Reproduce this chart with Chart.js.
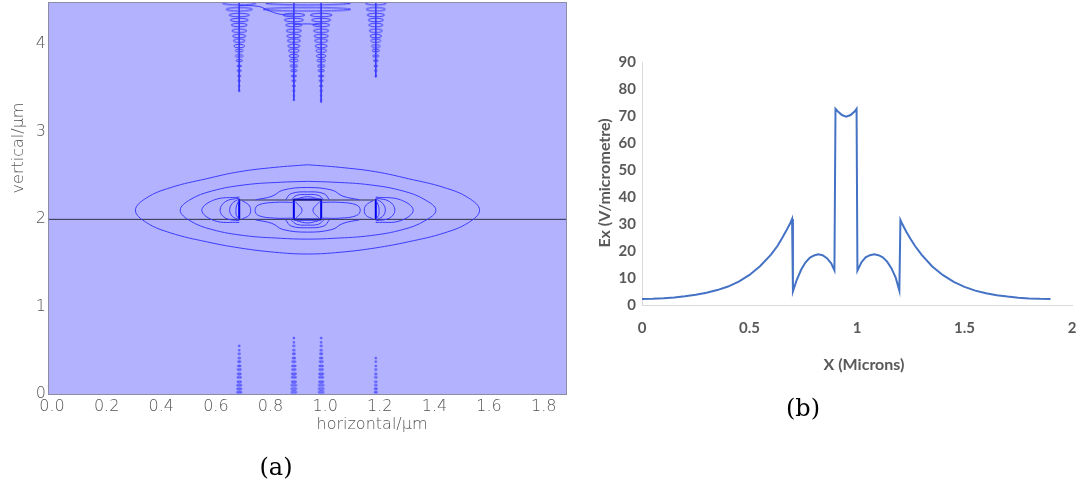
<!DOCTYPE html>
<html>
<head>
<meta charset="utf-8">
<script src="https://cdn.jsdelivr.net/npm/chart.js@4.4.1/dist/chart.umd.min.js"></script>
<style>
  html, body { margin: 0; padding: 0; background: #fff; width: 1090px; height: 493px; overflow: hidden; }
  canvas { position: absolute; }
  #left { left: 0; top: 0; }
  #right { left: 580px; top: 40px; }
</style>
</head>
<body>
<canvas id="left" width="580" height="490"></canvas>
<canvas id="right" width="510" height="380"></canvas>
<script>
// ---- (b) Ex along the horizontal cut ----
const exX = [0,0.05,0.1,0.15,0.2,0.25,0.3,0.35,0.4,0.45,0.5,0.55,0.6,0.63,0.65,0.67,0.69,0.698,
  0.702,0.72,0.74,0.76,0.78,0.8,0.82,0.84,0.86,0.88,0.895,
  0.9,0.91,0.93,0.95,0.97,0.99,0.998,
  1.002,1.02,1.04,1.06,1.08,1.1,1.12,1.14,1.16,1.18,1.197,
  1.202,1.21,1.23,1.25,1.27,1.3,1.35,1.4,1.45,1.5,1.55,1.6,1.65,1.7,1.75,1.8,1.85,1.9];
const exY = [2.4,2.5,2.7,3.0,3.4,4.0,4.7,5.7,7.0,8.8,11.3,14.6,18.8,22.0,24.7,27.5,30.5,32.0,
  5.2,9.5,13.2,15.9,17.6,18.5,18.9,18.6,17.5,15.6,13.0,
  72.7,71.8,70.4,69.8,70.4,71.8,72.7,
  12.9,15.9,17.8,18.6,18.9,18.6,17.8,16.2,13.8,10.3,5.5,
  31.6,30.2,27.2,24.5,22.0,18.8,14.4,11.2,8.7,6.9,5.5,4.5,3.8,3.3,2.9,2.6,2.45,2.4];
const exTicksX = [0, 0.5, 1, 1.5, 2];

// ---- (a) contour map [x, y] in µm ----
const outerC = [[0.95,2.62],[1.07,2.59],[1.2,2.54],[1.32,2.46],[1.45,2.36],[1.54,2.24],[1.58,2.10],
  [1.54,1.96],[1.45,1.84],[1.32,1.74],[1.2,1.67],[1.07,1.62],[0.95,1.60],[0.83,1.62],[0.7,1.67],[0.58,1.74],[0.45,1.84],[0.36,1.96],[0.32,2.10],
  [0.36,2.24],[0.45,2.36],[0.58,2.46],[0.7,2.54],[0.83,2.59],[0.95,2.62]];
const secondC = [[0.95,2.43],[1.05,2.42],[1.18,2.39],[1.3,2.32],[1.38,2.22],[1.42,2.10],
  [1.38,1.98],[1.3,1.88],[1.18,1.81],[1.05,1.78],[0.95,1.77],[0.85,1.78],[0.72,1.81],[0.6,1.88],[0.52,1.98],[0.484,2.10],
  [0.52,2.22],[0.6,2.32],[0.72,2.39],[0.85,2.42],[0.95,2.43]];
const crossTop = [[0.76,2.22],[0.82,2.26],[0.86,2.33],[0.95,2.36],[1.04,2.33],[1.08,2.26],[1.14,2.22]];
const crossBot = [[0.76,1.99],[0.82,1.95],[0.86,1.88],[0.95,1.85],[1.04,1.88],[1.08,1.95],[1.14,1.99]];
const lobeTop = [[[0.87,2.22],[0.89,2.29],[0.95,2.31],[1.01,2.29],[1.03,2.22]], [[0.89,2.22],[0.91,2.27],[0.95,2.28],[0.99,2.27],[1.01,2.22]], [[0.91,2.23],[0.95,2.255],[0.99,2.23]]];
const lobeBot = [[[0.87,1.99],[0.89,1.92],[0.95,1.90],[1.01,1.92],[1.03,1.99]], [[0.89,1.99],[0.91,1.94],[0.95,1.93],[0.99,1.94],[1.01,1.99]], [[0.91,1.98],[0.95,1.955],[0.99,1.98]]];
const leftArcs = [[[0.70,2.25],[0.61,2.22],[0.563,2.10],[0.61,1.98],[0.70,1.96]], [[0.70,2.24],[0.65,2.20],[0.63,2.10],[0.65,2.01],[0.70,1.98]],
  [[0.70,2.23],[0.675,2.18],[0.665,2.10],[0.675,2.03],[0.70,1.99]], [[0.70,2.22],[0.69,2.15],[0.688,2.10],[0.69,2.04],[0.70,2.0]], [[0.71,2.21],[0.735,2.16],[0.742,2.10],[0.735,2.04],[0.71,2.0]]];
const rightArcs = [[[1.20,2.25],[1.29,2.22],[1.337,2.10],[1.29,1.98],[1.20,1.96]], [[1.20,2.24],[1.25,2.20],[1.27,2.10],[1.25,2.01],[1.20,1.98]],
  [[1.20,2.23],[1.225,2.18],[1.235,2.10],[1.225,2.03],[1.20,1.99]], [[1.20,2.22],[1.21,2.15],[1.212,2.10],[1.21,2.04],[1.20,2.0]], [[1.19,2.21],[1.165,2.16],[1.158,2.10],[1.165,2.04],[1.19,2.0]]];
const ovalL = [[0.9,2.19],[0.83,2.19],[0.77,2.16],[0.758,2.10],[0.77,2.04],[0.83,2.01],[0.9,2.01]];
const ovalR = [[1.0,2.19],[1.07,2.19],[1.13,2.16],[1.143,2.10],[1.13,2.04],[1.07,2.01],[1.0,2.01]];
const hourglass = [[[0.905,2.2],[0.93,2.10],[0.905,2.0]], [[0.995,2.2],[0.97,2.10],[0.995,2.0]]];
const slabEdges = [0.7, 0.9, 1.0, 1.2];
const topS = [[0.70,4.44],[0.77,4.43],[0.81,4.38],[0.85,4.34],[0.9,4.33]];
const topBridge = [[0.9,4.22],[0.95,4.23],[1.0,4.215]];

// wiggle loops near the top and bottom boundaries
const topLevels = [4.465,4.396,4.331,4.274,4.217,4.152,4.091,4.038,3.977,3.924,3.863,3.810,3.749,3.695,3.634,3.581,3.52,3.466,3.41,3.36];
const top07W = [0.061,0.048,0.037,0.033,0.029,0.027,0.024,0.021,0.020,0.015,0.015,0.012,0.009,0.008,0.006,0.004,0.002,0.002];
const top09W = [0,0,0.040,0.035,0.030,0.028,0.026,0.024,0.022,0.020,0.018,0.016,0.014,0.012,0.010,0.008,0.006,0.004,0.003,0.002];
const top10W = [0,0,0.040,0.035,0.031,0.028,0.026,0.024,0.022,0.020,0.018,0.016,0.014,0.012,0.010,0.008,0.006,0.004,0.003,0.002];
const top12W = [0.038,0.035,0.032,0.028,0.026,0.024,0.021,0.019,0.017,0.014,0.012,0.009,0.007,0.005,0.003];
const topMerged = [{x:0.952,y:4.465,w:0.155,h:0.02},{x:0.948,y:4.396,w:0.16,h:0.02}];
const botLevels = [0.02,0.06,0.10,0.14,0.19,0.23,0.28,0.32,0.37,0.41,0.46,0.50,0.55,0.59,0.64];
const bot07W = [0.010,0.010,0.010,0.009,0.009,0.008,0.008,0.007,0.006,0.005,0.004,0.003,0.002];
const bot09W = [0.011,0.011,0.011,0.010,0.010,0.010,0.009,0.009,0.008,0.007,0.006,0.005,0.004,0.003,0.002];
const bot10W = [0.011,0.011,0.011,0.010,0.010,0.010,0.009,0.009,0.008,0.007,0.006,0.005,0.004,0.003,0.002];
const bot12W = [0.006,0.006,0.005,0.005,0.005,0.004,0.004,0.003,0.003,0.002];

const CONTOUR = '#3c3cff';
const SLAB = '#0000ee';
const DARK = '#30304a';

function pts(arr) { return arr.map(p => ({x: p[0], y: p[1]})); }
function curve(arr, color, width, tension) {
  return { data: pts(arr), showLine: true, borderColor: color, borderWidth: width, pointRadius: 0, tension: tension, fill: false };
}
function loops(x, levels, widths, h) {
  const out = [];
  widths.forEach((w, i) => { if (w > 0) out.push({x: x, y: levels[i], w: w, h: h ? Math.min(h, w) : w}); });
  return out;
}

const loopCache = {};
function loopImage(wpx, hpx) {
  const w = Math.max(0.8, wpx), h = Math.max(0.8, hpx);
  const key = w.toFixed(1) + 'x' + h.toFixed(1);
  if (!loopCache[key]) {
    const c = document.createElement('canvas');
    c.width = Math.ceil(2 * w + 2); c.height = Math.ceil(2 * h + 2);
    const g = c.getContext('2d');
    g.strokeStyle = CONTOUR; g.lineWidth = 1;
    g.beginPath(); g.ellipse(c.width / 2, c.height / 2, w, h, 0, 0, Math.PI * 2); g.stroke();
    loopCache[key] = c;
  }
  return loopCache[key];
}
function loopSet(data) {
  return {
    data: data, showLine: false, pointRadius: 2,
    pointStyle: (c) => {
      const p = c.raw;
      if (!p || !c.chart.scales.x) return 'circle';
      const sx = c.chart.scales.x, sy = c.chart.scales.y;
      return loopImage(sx.getPixelForValue(p.x + p.w) - sx.getPixelForValue(p.x),
                       sy.getPixelForValue(p.y) - sy.getPixelForValue(p.y + p.h));
    }
  };
}

const labelPlugin = {
  id: 'labels',
  afterDraw(chart, args, opts) {
    const ctx = chart.ctx;
    (opts.items || []).forEach(t => {
      ctx.save();
      ctx.font = t.font; ctx.fillStyle = t.color;
      ctx.textAlign = 'center'; ctx.textBaseline = 'middle';
      ctx.translate(t.x, t.y);
      if (t.rot) ctx.rotate(t.rot * Math.PI / 180);
      ctx.fillText(t.text, 0, 0);
      ctx.restore();
    });
  }
};
const mapBg = {
  id: 'mapBg',
  beforeDatasetsDraw(chart) {
    const a = chart.chartArea, ctx = chart.ctx;
    ctx.save(); ctx.fillStyle = '#b2b2fe'; ctx.fillRect(a.left, a.top, a.right - a.left, a.bottom - a.top); ctx.restore();
  },
  afterDatasetsDraw(chart) {
    const a = chart.chartArea, ctx = chart.ctx;
    ctx.save(); ctx.strokeStyle = '#8c8ca6'; ctx.lineWidth = 1;
    ctx.strokeRect(a.left + 0.5, a.top + 0.5, a.right - a.left - 1, a.bottom - a.top); ctx.restore();
  }
};

const lightFont = { family: '"DejaVu Sans"', size: 16, weight: '200' };
const mapDatasets = [
  loopSet(loops(0.70, topLevels, top07W, 0.02)),
  loopSet(loops(0.90, topLevels, top09W, 0.02)),
  loopSet(loops(1.00, topLevels, top10W, 0.02)),
  loopSet(loops(1.20, topLevels, top12W, 0.02)),
  loopSet(topMerged),
  loopSet(loops(0.70, botLevels, bot07W)),
  loopSet(loops(0.90, botLevels, bot09W)),
  loopSet(loops(1.00, botLevels, bot10W)),
  loopSet(loops(1.20, botLevels, bot12W)),
  curve([[0.70,4.48],[0.70,3.46]], CONTOUR, 1, 0),
  curve([[0.90,4.48],[0.90,3.36]], CONTOUR, 1, 0),
  curve([[1.00,4.48],[1.00,3.33]], CONTOUR, 1, 0),
  curve([[1.20,4.48],[1.20,3.62]], CONTOUR, 1, 0),
  curve(topS, CONTOUR, 1, 0.4),
  curve(topBridge, CONTOUR, 1, 0.4),
  curve(outerC, CONTOUR, 1, 0.4),
  curve(secondC, CONTOUR, 1, 0.4),
  curve(crossTop, CONTOUR, 1, 0.4),
  curve(crossBot, CONTOUR, 1, 0.4),
  curve(ovalL, CONTOUR, 1, 0.4),
  curve(ovalR, CONTOUR, 1, 0.4)
];
lobeTop.concat(lobeBot, leftArcs, rightArcs, hourglass).forEach(a => mapDatasets.push(curve(a, CONTOUR, 1, 0.4)));
mapDatasets.push(curve([[0, 1.996], [1.9, 1.996]], DARK, 1, 0));
mapDatasets.push(curve([[0.7, 2.217], [1.2, 2.217]], DARK, 1, 0));
slabEdges.forEach(x => mapDatasets.push(curve([[x, 1.99], [x, 2.23]], SLAB, 2, 0)));
mapDatasets.push(curve([[0.9, 2.222], [1.0, 2.222]], SLAB, 2, 0));
mapDatasets.push(curve([[0.9, 1.994], [1.0, 1.994]], SLAB, 2, 0));

new Chart(document.getElementById('left'), {
  type: 'scatter',
  data: { datasets: mapDatasets },
  options: {
    animation: false, responsive: false, events: [],
    layout: { autoPadding: false, padding: { top: 2, right: 13, left: 0, bottom: 0 } },
    plugins: {
      legend: { display: false }, tooltip: { enabled: false },
      labels: { items: [
        { text: 'horizontal/µm', x: 372, y: 425, font: '200 16px "DejaVu Sans"', color: '#555' },
        { text: 'vertical/µm', x: 19, y: 148, rot: -90, font: '200 16px "DejaVu Sans"', color: '#555' },
        { text: '(a)', x: 276, y: 469, font: '24px "DejaVu Serif"', color: '#000' }
      ] }
    },
    scales: {
      x: {
        type: 'linear', min: 0, max: 1.9,
        afterFit: (s) => { s.height = 96; s.paddingLeft = 0; s.paddingRight = 0; },
        grid: { display: false, drawTicks: false }, border: { display: false },
        ticks: { stepSize: 0.2, includeBounds: false, autoSkip: false, maxRotation: 0, padding: 3, labelOffset: 4,
                 color: '#555', font: lightFont, callback: (v) => v.toFixed(1) }
      },
      y: {
        type: 'linear', min: 0, max: 4.48,
        afterFit: (s) => { s.width = 48; s.paddingTop = 0; s.paddingBottom = 0; },
        grid: { display: false, drawTicks: false }, border: { display: false },
        ticks: { stepSize: 1, includeBounds: false, autoSkip: false, padding: 2, color: '#555', font: lightFont,
                 callback: (v) => String(v) }
      }
    }
  },
  plugins: [mapBg, labelPlugin]
});

// ---- (b) ----
const boldFont = { family: 'Lato', size: 15, weight: 'bold' };
new Chart(document.getElementById('right'), {
  type: 'scatter',
  data: { datasets: [{
    data: exX.map((x, i) => ({ x: x, y: exY[i] })),
    showLine: true, borderColor: '#4472C4', borderWidth: 2, pointRadius: 0, tension: 0
  }] },
  options: {
    animation: false, responsive: false, events: [],
    layout: { autoPadding: false, padding: { top: 22, right: 18, left: 0, bottom: 0 } },
    plugins: {
      legend: { display: false }, tooltip: { enabled: false },
      labels: { items: [
        { text: 'Ex (V/micrometre)', x: 25, y: 143, rot: -90, font: 'bold 16px Lato', color: '#595959' },
        { text: 'X (Microns)', x: 284, y: 325, font: 'bold 16px Lato', color: '#595959' },
        { text: '(b)', x: 223, y: 370, font: '24px "DejaVu Serif"', color: '#000' }
      ] }
    },
    scales: {
      x: {
        type: 'linear', min: exTicksX[0], max: exTicksX[exTicksX.length - 1],
        afterFit: (s) => { s.height = 114.5; s.paddingLeft = 0; s.paddingRight = 0; },
        grid: { display: false, drawTicks: false }, border: { display: true, color: '#d9d9d9', width: 1 },
        ticks: { stepSize: 0.5, autoSkip: false, maxRotation: 0, padding: 14, color: '#595959', font: boldFont,
                 callback: (v) => String(v) }
      },
      y: {
        type: 'linear', min: 0, max: 90,
        afterFit: (s) => { s.width = 62; s.paddingTop = 0; s.paddingBottom = 0; },
        grid: { display: false, drawTicks: false }, border: { display: true, color: '#d9d9d9', width: 1 },
        ticks: { stepSize: 10, autoSkip: false, padding: 6, color: '#595959', font: boldFont }
      }
    }
  },
  plugins: [labelPlugin]
});
</script>
</body>
</html>
